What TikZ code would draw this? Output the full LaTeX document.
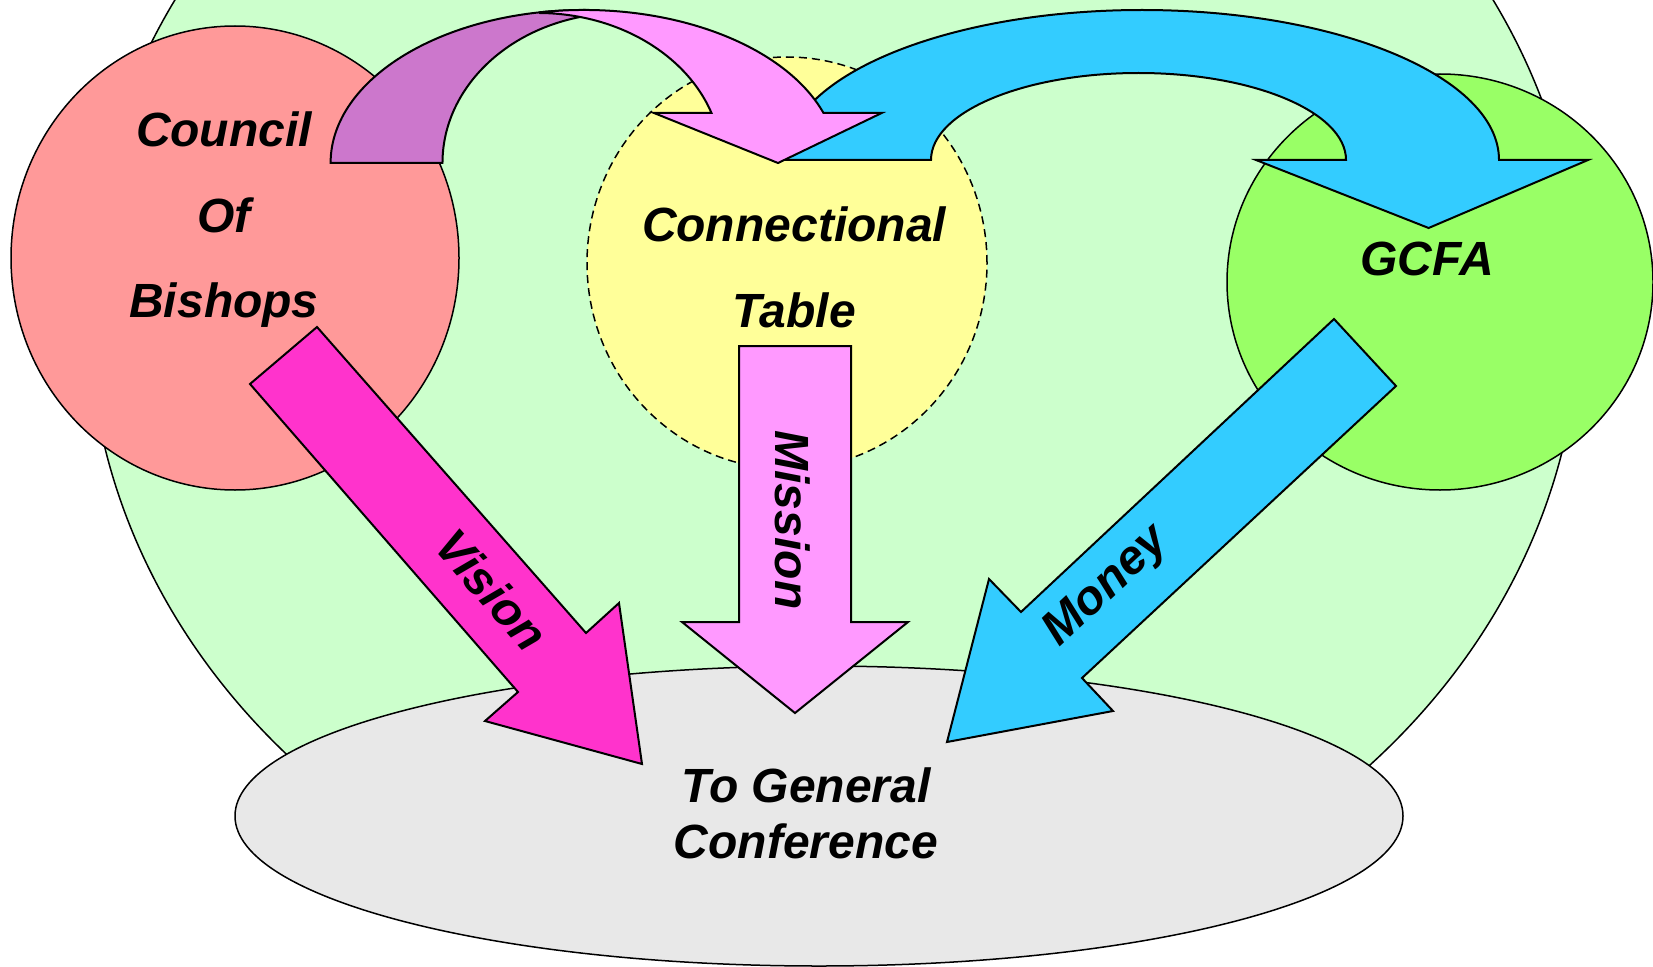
\documentclass[tikz,border=0pt]{standalone}
\usepackage{fontspec}
\setmainfont{Liberation Sans}
\definecolor{backgreen}{HTML}{CCFFCC}
\definecolor{bishopred}{HTML}{FF9999}
\definecolor{tableyellow}{HTML}{FFFF99}
\definecolor{gcfagreen}{HTML}{99FF66}
\definecolor{confgray}{HTML}{E8E8E8}
\definecolor{visionpink}{HTML}{FF33CC}
\definecolor{missionpink}{HTML}{FF99FF}
\definecolor{missionshade}{HTML}{CC77CC}
\definecolor{moneyblue}{HTML}{33CCFF}
\begin{document}
\begin{tikzpicture}[x=0.5pt,y=0.5pt,
    blob/.style={draw,line width=0.75pt},
    fat/.style={draw,line width=1pt,line join=miter},
    txt/.style={font={\fontsize{24}{#1}\selectfont\bfseries\itshape},align=center,inner sep=0pt},
    txt/.default=43]
  \useasboundingbox (0,0) rectangle (1653,966);
  \clip (0,0) rectangle (1653,966);
  % the four bodies on the back ground
  \coordinate (church) at (834,658);
  \coordinate (bishops) at (235,708);
  \coordinate (table) at (787,703);
  \coordinate (gcfa) at (1440,684);
  \coordinate (conf) at (819,150);
  \draw[blob,fill=backgreen] (church) ellipse [x radius=746,y radius=657];
  \draw[blob,fill=bishopred] (bishops) ellipse [x radius=224,y radius=232];
  \draw[blob,fill=tableyellow,dash pattern=on 4pt off 2.5pt] (table) ellipse [x radius=200,y radius=206];
  \draw[blob,fill=gcfagreen] (gcfa) ellipse [x radius=213,y radius=208];
  \draw[blob,fill=confgray] (conf) ellipse [x radius=584,y radius=150];
  \node[txt=42.75] (bishopstext) at (224,746) {Council\\Of\\Bishops};
  \node[txt=43.3] (tabletext) at (794,698.5) {Connectional\\Table};
  \node[txt,anchor=base] (gcfatext) at (1427,691) {GCFA};
  \node[txt=27.8] (conftext) at (806,152.5) {To General\\Conference};
  % straight arrows
  \def\visionpath{(317,639) -- (586,333) -- (619,363) -- (642,202) -- (485,245) -- (518,274) -- (250,582) -- cycle}
  \def\missionpath{(739,620) -- (851,620) -- (851,344) -- (908,344) -- (795,253) -- (682,344) -- (739,344) -- cycle}
  \def\moneypath{(1334,647) -- (1396,580) -- (1082,288) -- (1113,255) -- (947,224) -- (989,387) -- (1021,354) -- cycle}
  \draw[fat,fill=visionpink] \visionpath;
  \draw[fat,fill=missionpink] \missionpath;
  \draw[fat,fill=moneyblue] \moneypath;
  \node[txt,rotate=-48.7] (vision) at (492,376) {Vision};
  \node[txt,rotate=-90] (mission) at (793,446) {Mission};
  \node[txt,rotate=43.1] (money) at (1107,379) {Money};
  % curved arrows over the top
  \draw[fat,fill=moneyblue] (785,806) arc[start angle=180,end angle=0,x radius=357,y radius=150]
    -- (1588,806) -- (1428.6,738) -- (1256,806) -- (1346,806)
    arc[start angle=0,end angle=180,x radius=207.5,y radius=87] -- cycle;
  \draw[fat,fill=missionshade] (330.6,803) arc[start angle=180,end angle=90,x radius=253.4,y radius=153]
    -- (580,949) arc[start angle=103.3,end angle=180,x radius=178.6,y radius=150] -- cycle;
  \draw[fat,fill=missionpink] (540,953.7) arc[start angle=100,end angle=19.07,x radius=253.4,y radius=153]
    -- (881.7,853) -- (778,803) -- (654,853) -- (711.5,853)
    arc[start angle=19.47,end angle=89.4,x radius=184,y radius=150] -- cycle;
\end{tikzpicture}
\end{document}
